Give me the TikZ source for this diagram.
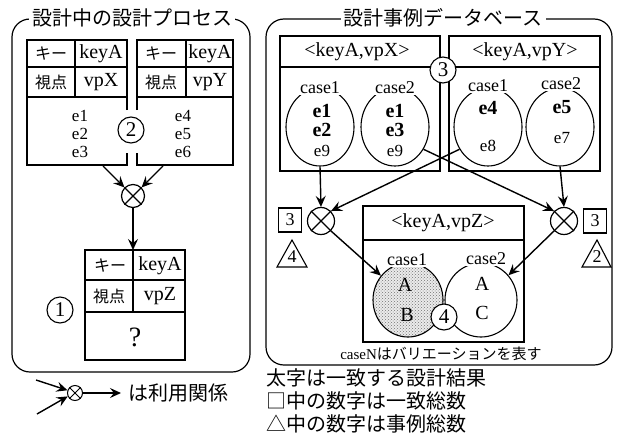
\documentclass[tikz,border=0pt]{standalone}
\usepackage{fontspec}
\setmainfont{Liberation Serif}
\newfontfamily\jp{Noto Sans CJK JP}
\usetikzlibrary{arrows.meta,shapes.geometric,patterns}
\begin{document}
\begin{tikzpicture}[x=1pt,y=-1pt,line width=1.2pt,
  lat/.style={inner sep=0pt,font=\fontsize{20}{20}\selectfont},
  latb/.style={inner sep=0pt,font=\bfseries\fontsize{20}{20}\selectfont},
  lats/.style={inner sep=0pt,font=\fontsize{17}{17}\selectfont},
  jps/.style={inner sep=0pt,font=\jp\fontsize{16}{16}\selectfont},
  jpl/.style={inner sep=0pt,font=\jp\fontsize{20}{20}\selectfont},
  ttl/.style={fill=white,inner xsep=3pt,inner ysep=1pt,font=\jp\fontsize{20}{20}\selectfont},
  ox/.style={circle,draw,fill=white,line width=1.2pt,minimum size=26pt,inner sep=0pt},
  num/.style={circle,draw,fill=white,line width=1.1pt,minimum size=26pt,inner sep=0pt,font=\fontsize{21}{21}\selectfont},
  ell/.style={ellipse,draw,line width=1.1pt,minimum width=68pt,minimum height=78pt,inner sep=0pt},
  cl/.style={fill=white,inner xsep=1.5pt,inner ysep=1pt,font=\fontsize{18}{18}\selectfont},
  arr/.style={-{Stealth[length=11pt,width=10pt,inset=4pt]},line width=1.4pt},
  cnt/.style={draw,line width=1.1pt,minimum width=23pt,minimum height=24pt,inner sep=0pt,font=\fontsize{18}{18}\selectfont}
]
\useasboundingbox (0,0) rectangle (617,441);

% ---------- left frame ----------
\draw[rounded corners=18pt] (12,19) rectangle (250,372);
\node[ttl] (t1) at (132,18) {設計中の設計プロセス};

% two input tables
\draw (127,110) -- (127,40) -- (27,40) -- (27,165) -- (127,165) -- (127,153);
\draw (27,67) -- (127,67) (27,97) -- (127,97) (75,40) -- (75,97);
\draw (137,110) -- (137,40) -- (233,40) -- (233,165) -- (137,165) -- (137,153);
\draw (137,67) -- (233,67) (137,97) -- (233,97) (186,40) -- (186,97);

\node[jps] (k1) at (51,54) {キー};
\node[lat] (ka1) at (101,54) {keyA};
\node[jps] (v1) at (51,82) {視点};
\node[lat] (vp1) at (101,82) {vpX};
\node[jps] (k2) at (161,54) {キー};
\node[lat] (ka2) at (210,54) {keyA};
\node[jps] (v2) at (161,82) {視点};
\node[lat] (vp2) at (210,82) {vpY};
\node[lats] (le1) at (80,116) {e1};
\node[lats] (le2) at (80,134) {e2};
\node[lats] (le3) at (80,152) {e3};
\node[lats] (le4) at (183,116) {e4};
\node[lats] (le5) at (183,134) {e5};
\node[lats] (le6) at (183,152) {e6};
\node[num] (n2) at (131,130) {2};

% combine
\node[ox,minimum size=23pt] (x1) at (133,196) {};
\draw (x1.45) -- (x1.225) (x1.135) -- (x1.315);
\coordinate (s1) at (103,166);
\coordinate (s2) at (163,166);
\draw[arr] (s1) -- (x1.135);
\draw[arr] (s2) -- (x1.45);

% result table
\draw (85,250) rectangle (185,360);
\draw (85,280) -- (185,280) (85,312) -- (185,312) (133,250) -- (133,312);
\coordinate (bt) at (133,250);
\draw[arr] (x1.south) -- (bt);
\node[jps] (k3) at (110,266) {キー};
\node[lat] (ka3) at (160,266) {keyA};
\node[jps] (v3) at (109,296) {視点};
\node[lat] (vp3) at (160,296) {vpZ};
\node[inner sep=0pt,font=\fontsize{28}{28}\selectfont] (q) at (135,337) {?};
\node[num] (n1) at (60,310) {1};

% legend left
\node[ox,minimum size=15pt,line width=1pt] (x0) at (75,393) {};
\draw[line width=1pt] (x0.45) -- (x0.225) (x0.135) -- (x0.315);
\coordinate (l1) at (36,380);
\coordinate (l2) at (37,414);
\coordinate (l3) at (121,393);
\draw[arr] (l1) -- (x0.160);
\draw[arr] (l2) -- (x0.205);
\draw[arr] (x0.east) -- (l3);
\node[jpl,anchor=west] (leg1) at (128,393) {は利用関係};

% ---------- right frame ----------
\draw[rounded corners=18pt] (266,19) rectangle (612,365);
\node[ttl] (t2) at (443,18) {設計事例データベース};

\draw (280,36) rectangle (440,171);
\draw (280,67) -- (440,67);
\draw (449,36) rectangle (600,171);
\draw (449,67) -- (600,67);
\node[lat] (h1) at (357,52) {<keyA,vpX>};
\node[lat] (h2) at (525,52) {<keyA,vpY>};

\node[ell] (a1) at (320,127) {};
\node[ell] (a2) at (395,127) {};
\node[ell] (b1) at (488,127) {};
\node[ell] (b2) at (560,127) {};
\node[cl] (a1l) at (320,88) {case1};
\node[cl] (a2l) at (395,88) {case2};
\node[cl] (b1l) at (488,86) {case1};
\node[cl] (b2l) at (561,84) {case2};
\node[latb] (a1e1) at (322,111) {e1};
\node[latb] (a1e2) at (322,130) {e2};
\node[lats] (a1e9) at (322,151) {e9};
\node[latb] (a2e1) at (395,111) {e1};
\node[latb] (a2e3) at (395,130) {e3};
\node[lats] (a2e9) at (395,151) {e9};
\node[latb] (b1e4) at (488,108) {e4};
\node[lats] (b1e8) at (488,146) {e8};
\node[latb] (b2e5) at (562,107) {e5};
\node[lats] (b2e7) at (562,138) {e7};
\node[num] (n3) at (443,70) {3};

% matching
\node[ox,minimum size=27pt] (xa) at (321,221) {};
\draw (xa.45) -- (xa.225) (xa.135) -- (xa.315);
\node[ox,minimum size=27pt] (xb) at (564,221) {};
\draw (xb.45) -- (xb.225) (xb.135) -- (xb.315);
\draw[arr] (a1.south) -- (xa.north);
\draw[arr] (b2.south) -- (xb.north);
\draw[arr] (b1.218) -- (xa.45);
\draw[arr] (a2.-38) -- (xb.135);

\node[cnt] (c3a) at (290,220) {3};
\draw[line width=1.1pt] (277,267) -- (292,240) -- (307,267) -- cycle;
\node[inner sep=0pt,font=\fontsize{18}{18}\selectfont] (c4) at (292,257) {4};
\node[cnt] (c3b) at (595,221) {3};
\draw[line width=1.1pt] (582,267) -- (597,240) -- (611,267) -- cycle;
\node[inner sep=0pt,font=\fontsize{18}{18}\selectfont] (c2) at (597,257) {2};

% new case box
\draw (363,206) rectangle (524,342);
\draw (363,240) -- (524,240);
\node[lat] (h3) at (443,223) {<keyA,vpZ>};
\node[ellipse,draw,line width=1.1pt,preaction={fill=black!8},pattern=crosshatch dots,pattern color=black!55,minimum width=70pt,minimum height=74pt,inner sep=0pt] (d1) at (408,300) {};
\node[ell,minimum width=72pt,minimum height=74pt] (d2) at (481,300) {};
\node[cl] (d1l) at (407,260) {case1};
\node[cl] (d2l) at (486,259) {case2};
\node[lat] (d1a) at (405,285) {A};
\node[lat] (d1b) at (407,315) {B};
\node[lat] (d2a) at (482,284) {A};
\node[lat] (d2c) at (482,313) {C};
\node[num] (n4) at (444,317) {4};
\draw[arr] (xa.-45) -- (d1.138);
\draw[arr] (xb.-135) -- (d2.42);
\node[inner sep=0pt] (cn) at (441,354) {\fontsize{15}{15}\selectfont caseN\jp はバリエーションを表す};

% legend right
\node[jpl,anchor=west] (r1) at (266,378) {太字は一致する設計結果};
\node[jpl,anchor=west] (r2) at (266,401) {□中の数字は一致総数};
\node[jpl,anchor=west] (r3) at (266,424) {△中の数字は事例総数};
\end{tikzpicture}
\end{document}
